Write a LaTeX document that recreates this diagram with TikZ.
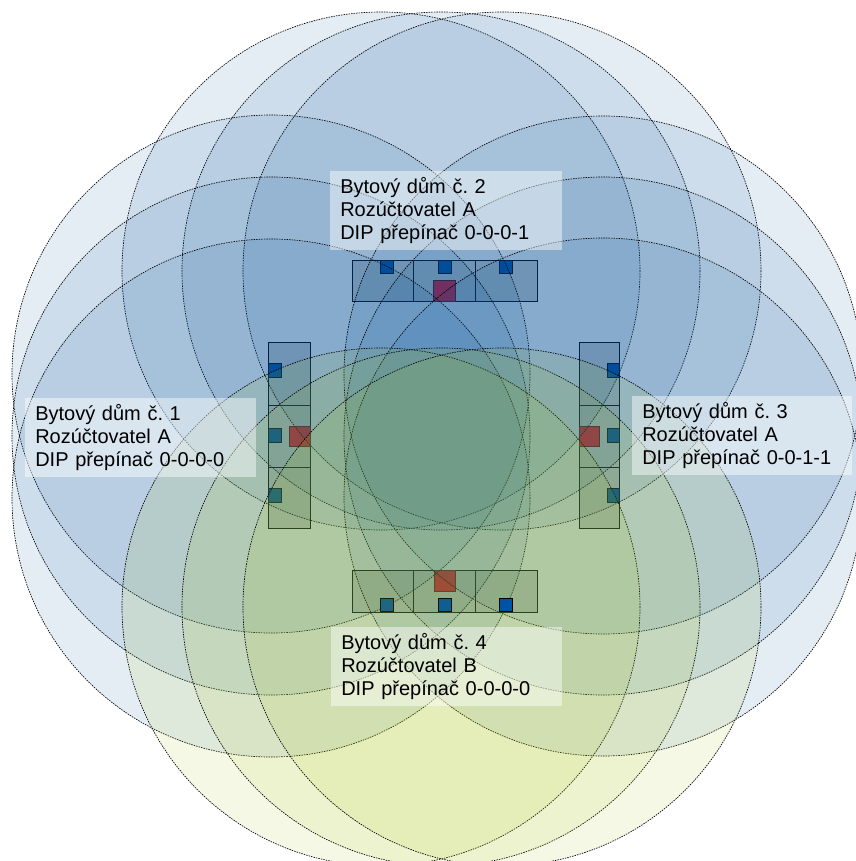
\documentclass[tikz,border=0pt]{standalone}
\usepackage{fontspec}
\setmainfont{Liberation Sans}
\frenchspacing
\definecolor{cblue}{RGB}{0,78,150}
\definecolor{cyell}{RGB}{160,190,0}
\definecolor{sqblue}{RGB}{0,82,165}
\definecolor{sqred}{RGB}{245,20,40}
\definecolor{bldg}{RGB}{216,216,212}
\tikzset{
  x=0.75pt,y=-0.75pt,
  bldgbox/.style={fill=bldg,draw=black,line width=0.75pt},
  divider/.style={draw=black,line width=0.75pt},
  ap/.style={fill=sqblue,draw=black,line width=0.75pt},
  master/.style={fill=sqred,draw=black!60!sqred,line width=0.75pt},
  reach/.style={draw=black,line width=0.5pt,dash pattern=on 1.1pt off 0.8pt,fill opacity=0.1},
  bluereach/.style={reach,fill=cblue},
  yellowreach/.style={reach,fill=cyell},
  tag/.style={anchor=north west,fill=white,fill opacity=0.45,text opacity=1,inner ysep=0pt,inner xsep=7.5pt,
    align=left,font=\fontsize{15}{17.25}\selectfont,minimum height=59.25pt,text width=#1}
}
\begin{document}
\begin{tikzpicture}
\useasboundingbox (0,0) rectangle (856,861);
\clip (0,0) rectangle (856,861);
% top building
\draw[bldgbox] (352,260) rectangle (537,301);
\draw[divider] (413,260) -- (413,301) (475,260) -- (475,301);
% left building
\draw[bldgbox] (268,342) rectangle (310,528);
\draw[divider] (268,405) -- (310,405) (268,467) -- (310,467);
% right building
\draw[bldgbox] (579,342) rectangle (619,528);
\draw[divider] (579,405) -- (619,405) (579,467) -- (619,467);
% bottom building
\draw[bldgbox] (352,570) rectangle (537,612);
\draw[divider] (413,570) -- (413,612) (475,570) -- (475,612);
% transmitters of the top, left and right buildings
\foreach \x in {380,438,499} \draw[ap] (\x,260) rectangle ++(13,13);
\foreach \y in {363,428,488} {
  \draw[ap] (268,\y) rectangle ++(13,14);
  \draw[ap] (607,\y) rectangle ++(12,14);
}
% masters
\draw[master] (433,280) rectangle (455,301);
\draw[master] (289,426) rectangle (310,446);
\draw[master] (579,426) rectangle (599,446);
\draw[master] (434,570) rectangle (455,591);
% ranges
\foreach \x in {381,441,502} \draw[bluereach] (\x,271) circle[radius=259];
\foreach \y in {374,436,498} \draw[bluereach] (271,\y) circle[radius=259];
\foreach \y in {375,436,497} \draw[bluereach] (603,\y) circle[radius=259];
% bottom building: each range, then its transmitter
\draw[yellowreach] (381,607) circle[radius=259];
\draw[ap] (380,598) rectangle ++(13,13);
\draw[yellowreach] (441,607) circle[radius=259];
\draw[ap] (438,598) rectangle ++(13,13);
\draw[yellowreach] (502,607) circle[radius=259];
\draw[ap] (499,598) rectangle ++(13,13);
% labels
\node[tag=159pt] (b2) at (330,171) {Bytový dům č. 2\\Rozúčtovatel A\\DIP přepínač 0-0-0-1};
\node[tag=158pt] (b1) at (25,398) {Bytový dům č. 1\\Rozúčtovatel A\\DIP přepínač 0-0-0-0};
\node[tag=150pt] (b3) at (632,396) {Bytový dům č. 3\\Rozúčtovatel A\\DIP přepínač 0-0-1-1};
\node[tag=158pt] (b4) at (331,627) {Bytový dům č. 4\\Rozúčtovatel B\\DIP přepínač 0-0-0-0};
\end{tikzpicture}
\end{document}
